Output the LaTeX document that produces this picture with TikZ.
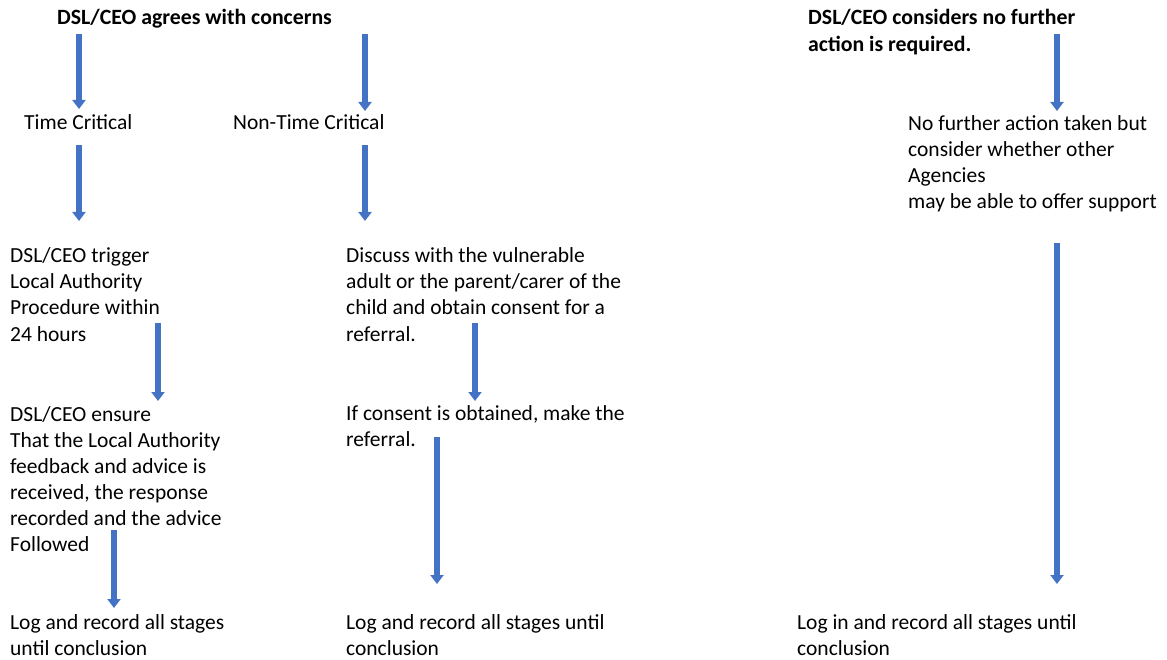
\documentclass[tikz,border=0pt]{standalone}
\usepackage{fontspec}
\setmainfont{Carlito}
\usetikzlibrary{arrows.meta,positioning}
\definecolor{flowblue}{HTML}{4472C4}
\tikzset{
  txt/.style={anchor=base west, inner sep=0pt, align=left, font=\fontsize{21.5}{26}\selectfont},
  head/.style={txt, font=\fontsize{21.8}{27}\selectfont\bfseries},
  flow/.style={line width=6pt, draw=flowblue, -{Triangle[width=13pt,length=9pt]}},
}
\begin{document}
\begin{tikzpicture}[x=1pt,y=-1pt]
    \useasboundingbox (0,0) rectangle (1167,660);

    % Headings (base = last line)
    \node[head] (agree) at (57,25) {DSL/CEO agrees with concerns};
    \node[head] (nfa) at (808,52) {DSL/CEO considers no further\\action is required.};

    % Left branch
    \node[txt] (tc) at (24,130) {Time Critical};
    \node[txt] (trigger) at (10,341) {DSL/CEO trigger\\Local Authority\\Procedure within\\24 hours};
    \node[txt] (ensure) at (10,551) {DSL/CEO ensure\\That the Local Authority\\feedback and advice is\\received, the response\\recorded and the advice\\Followed};
    \node[txt] (logA) at (10,655) {Log and record all stages\\until conclusion};

    % Middle branch
    \node[txt] (ntc) at (233,130) {Non-Time Critical};
    \node[txt] (discuss) at (346,341) {Discuss with the vulnerable\\adult or the parent/carer of the\\child and obtain consent for a\\referral.};
    \node[txt] (consent) at (346,446) {If consent is obtained, make the\\referral.};
    \node[txt] (logB) at (346,655) {Log and record all stages until\\conclusion};

    % Right branch
    \node[txt] (noact) at (908,209) {No further action taken but\\consider whether other\\Agencies\\may be able to offer support};
    \node[txt] (logC) at (797,655) {Log in and record all stages until\\conclusion};

    % Arrow ends
    \coordinate (a1s) at (79,34);   \coordinate (a1e) at (79,109);
    \coordinate (a2s) at (365,34);  \coordinate (a2e) at (365,111);
    \coordinate (a3s) at (1057,34); \coordinate (a3e) at (1057,111);
    \coordinate (a4s) at (79,145);  \coordinate (a4e) at (79,221);
    \coordinate (a5s) at (365,145); \coordinate (a5e) at (365,221);
    \coordinate (a6s) at (158,323); \coordinate (a6e) at (158,401);
    \coordinate (a7s) at (475,323); \coordinate (a7e) at (475,401);
    \coordinate (a8s) at (1057,243); \coordinate (a8e) at (1057,584);
    \coordinate (a9s) at (437,437); \coordinate (a9e) at (437,584);
    \coordinate (a10s) at (114,530); \coordinate (a10e) at (114,608);

    \foreach \i in {1,...,10}
      \draw[flow] (a\i s) -- (a\i e);
  \end{tikzpicture}
\end{document}
